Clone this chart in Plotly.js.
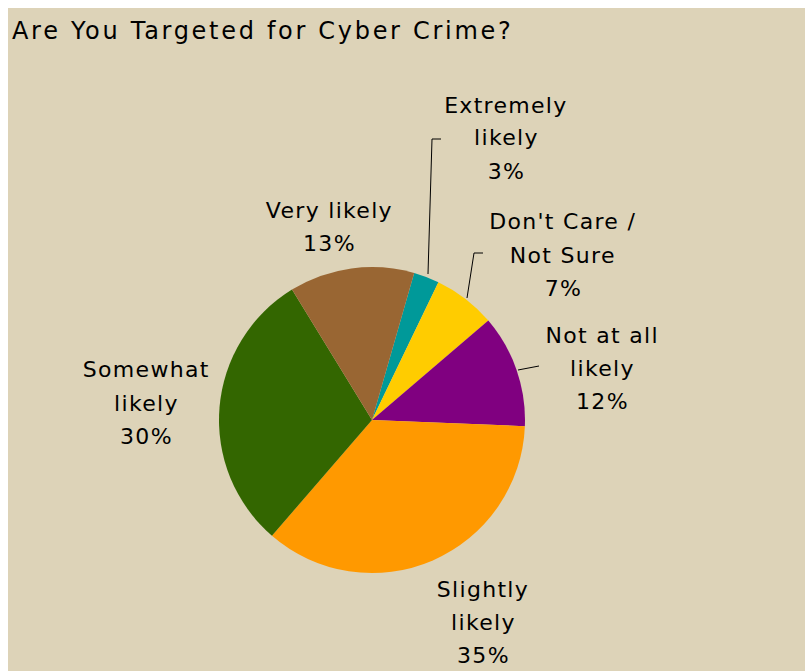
<!DOCTYPE html>
<html>
<head>
<meta charset="utf-8">
<script src="https://cdn.plot.ly/plotly-3.0.1.min.js"></script>
<style>
  html, body { margin: 0; padding: 0; background: #ffffff; }
  #chart { position: absolute; left: 8px; top: 8px; width: 797px; height: 663px; }
  #chart .gtitle { letter-spacing: 2.7px; }
  #chart .annotation-text { letter-spacing: 1.3px; }
</style>
</head>
<body>
<div id="chart"></div>
<script>
// ---- data ----
const categories = ["Extremely likely", "Don't Care / Not Sure", "Not at all likely", "Slightly likely", "Somewhat likely", "Very likely"];
const values = [2.7, 6.6, 11.9, 35.7, 29.9, 13.2];
const percentLabels = ["3%", "7%", "12%", "35%", "30%", "13%"];
const labelLines = [["Extremely", "likely"], ["Don't Care /", "Not Sure"], ["Not at all", "likely"], ["Slightly", "likely"], ["Somewhat", "likely"], ["Very likely"]];
const colors = ["#009999", "#FFCC00", "#800080", "#FF9900", "#336600", "#996633"];

// ---- layout constants (div pixel coordinates) ----
const W = 797, H = 663;
const pieCenter = [364, 412], pieR = 153;
// centre of first text line of each label block
const labelAnchors = [[498, 97], [555, 214], [594, 327], [475, 581], [138, 362], [321, 202]];
const lineGap = 33;
const leaders = [
  [[420, 266], [424, 131], [433, 131]],
  [[459, 290], [466, 245], [475, 245]],
  [[510, 362], [531, 358]]
];

const px = x => x / W;
const py = y => 1 - y / H;

const annotations = [];
categories.forEach((c, i) => {
  const lines = labelLines[i].concat([percentLabels[i]]);
  lines.forEach((t, j) => {
    annotations.push({
      xref: 'paper', yref: 'paper',
      x: px(labelAnchors[i][0]), y: py(labelAnchors[i][1] + j * lineGap),
      xanchor: 'center', yanchor: 'middle',
      text: t, showarrow: false,
      font: { family: 'DejaVu Sans, Verdana, sans-serif', size: 22, color: '#000000' }
    });
  });
});

const shapes = leaders.map(pts => ({
  type: 'path', xref: 'paper', yref: 'paper',
  path: pts.map((p, k) => (k === 0 ? 'M' : 'L') + px(p[0]) + ',' + py(p[1])).join(' '),
  line: { color: '#000000', width: 1 }
}));

const trace = {
  type: 'pie',
  labels: categories,
  values: values,
  sort: false,
  direction: 'clockwise',
  rotation: 16,
  textinfo: 'none',
  hoverinfo: 'label+percent',
  marker: { colors: colors, line: { width: 0 } },
  domain: {
    x: [px(pieCenter[0] - pieR), px(pieCenter[0] + pieR)],
    y: [py(pieCenter[1] + pieR), py(pieCenter[1] - pieR)]
  },
  showlegend: false
};

const layout = {
  width: W, height: H,
  margin: { l: 0, r: 0, t: 0, b: 0 },
  paper_bgcolor: '#DDD3B8',
  plot_bgcolor: '#DDD3B8',
  showlegend: false,
  title: {
    text: 'Are You Targeted for Cyber Crime?',
    xref: 'paper', yref: 'paper',
    x: px(4), y: py(23), xanchor: 'left', yanchor: 'middle',
    font: { family: 'DejaVu Sans, Verdana, sans-serif', size: 24, color: '#000000' }
  },
  annotations: annotations,
  shapes: shapes
};

Plotly.newPlot('chart', [trace], layout, { displayModeBar: false, staticPlot: true });
</script>
</body>
</html>
